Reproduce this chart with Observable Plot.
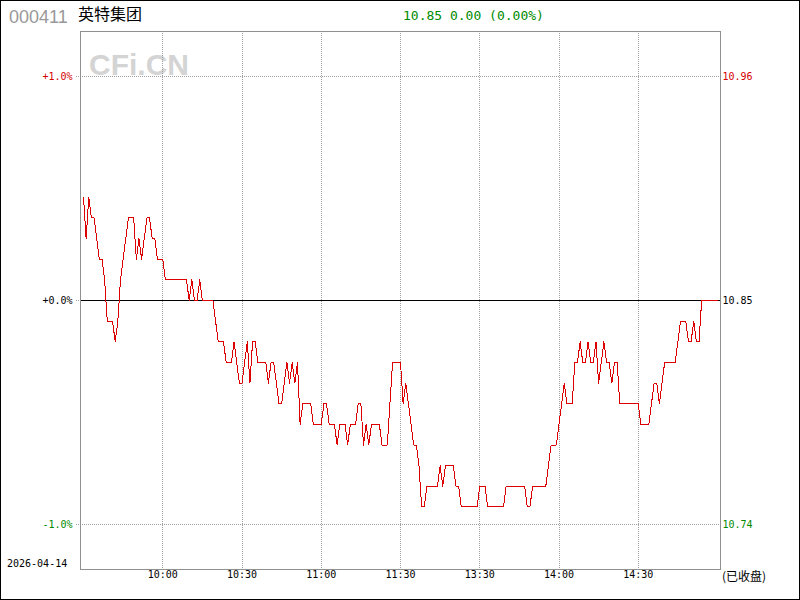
<!DOCTYPE html>
<html><head><meta charset="utf-8">
<script src="https://cdn.jsdelivr.net/npm/d3@7"></script>
<script src="https://cdn.jsdelivr.net/npm/@observablehq/plot@0.6"></script>
<style>
html,body{margin:0;padding:0;background:#fff;}
#wrap{position:relative;width:800px;height:600px;overflow:hidden;background:#fff;}
#wrap svg{position:absolute;left:0;top:0;}
</style></head><body>
<div id="wrap"></div>
<script>
// ---- header / footer texts ----
const stockCode = "000411";
const stockName = "英特集团";
const quoteText = "10.85 0.00 (0.00%)";
const tradeDate = "2026-04-14";
const statusText = "(已收盘)";
const watermark = "CFi.CN";

// ---- data ----
const prevClose = 10.85;
// one price per trading minute, 09:30 .. 11:30 then 13:01 .. 15:00
const prices = [
  10.90,10.88,10.90,10.89,10.89,10.88,10.87,10.87,10.86,10.84,
  10.84,10.84,10.83,10.84,10.86,10.87,10.88,10.89,10.89,10.89,
  10.87,10.88,10.87,10.88,10.89,10.89,10.88,10.88,10.87,10.87,
  10.87,10.86,10.86,10.86,10.86,10.86,10.86,10.86,10.86,10.86,
  10.85,10.86,10.85,10.85,10.86,10.85,10.85,10.85,10.85,10.85,
  10.84,10.83,10.83,10.83,10.82,10.82,10.82,10.83,10.82,10.81,
  10.81,10.82,10.83,10.81,10.83,10.83,10.82,10.82,10.82,10.82,
  10.81,10.82,10.82,10.81,10.80,10.80,10.81,10.82,10.81,10.82,
  10.81,10.82,10.79,10.80,10.80,10.80,10.80,10.79,10.79,10.79,
  10.79,10.80,10.80,10.79,10.79,10.79,10.78,10.79,10.79,10.79,
  10.78,10.79,10.79,10.79,10.80,10.80,10.78,10.79,10.78,10.79,
  10.79,10.79,10.79,10.78,10.78,10.78,10.80,10.82,10.82,10.82,
  10.82,10.80,10.81,10.80,10.79,10.78,10.78,10.77,10.75,10.75,
  10.76,10.76,10.76,10.76,10.76,10.77,10.76,10.77,10.77,10.77,
  10.77,10.76,10.76,10.75,10.75,10.75,10.75,10.75,10.75,10.75,
  10.76,10.76,10.76,10.75,10.75,10.75,10.75,10.75,10.75,10.75,
  10.76,10.76,10.76,10.76,10.76,10.76,10.76,10.76,10.75,10.75,
  10.76,10.76,10.76,10.76,10.76,10.76,10.77,10.78,10.78,10.78,
  10.79,10.80,10.81,10.80,10.80,10.80,10.82,10.82,10.83,10.82,
  10.82,10.83,10.82,10.82,10.83,10.81,10.82,10.83,10.82,10.82,
  10.81,10.82,10.82,10.80,10.80,10.80,10.80,10.80,10.80,10.80,
  10.80,10.79,10.79,10.79,10.79,10.80,10.81,10.81,10.80,10.81,
  10.82,10.82,10.82,10.82,10.82,10.83,10.84,10.84,10.84,10.83,
  10.83,10.84,10.83,10.83,10.85,10.85,10.85,10.85,10.85,10.85,
  10.85
];
const xTickMinutes = [30, 60, 90, 120, 150, 180, 210];
const xTickLabels = ["10:00", "10:30", "11:00", "11:30", "13:30", "14:00", "14:30"];
const pctTicks = [1, 0, -1];
const pctLabels = ["+1.0%", "+0.0%", "-1.0%"];
const priceLabels = ["10.96", "10.85", "10.74"];
const tickColors = ["#d40000", "#000000", "#008a00"];

// ---- build ----
const data = prices.map((p, i) => ({minute: i, pct: (p / prevClose - 1) * 100}));
const xticks = xTickMinutes.map((m, i) => ({minute: m, label: xTickLabels[i]}));
const yticks = pctTicks.map((v, i) => ({pct: v, left: pctLabels[i], right: priceLabels[i], color: tickColors[i]}));
const half = 269 / 224;
const mono = "'DejaVu Sans Mono', monospace";

const chart = Plot.plot({
  width: 800, height: 600,
  marginLeft: 80, marginRight: 80, marginTop: 31, marginBottom: 31,
  style: {background: "transparent"},
  x: {domain: [0, 240], insetLeft: 3, insetRight: 3, axis: null},
  y: {domain: [-half, half], axis: null},
  color: {type: "identity"},
  marks: [
    Plot.ruleX(xticks, {x: "minute", stroke: "#a0a0a0", strokeDasharray: "1,1", shapeRendering: "crispEdges"}),
    Plot.ruleY(yticks, {y: "pct", insetLeft: -4, stroke: "#a0a0a0", strokeDasharray: "1,1", shapeRendering: "crispEdges"}),
    Plot.ruleY([0], {stroke: "#000", shapeRendering: "crispEdges"}),
    Plot.frame({stroke: "#909090", shapeRendering: "crispEdges"}),
    Plot.line(data, {x: "minute", y: "pct", stroke: "#dd0000", strokeWidth: 1, shapeRendering: "crispEdges"}),
    Plot.text(yticks, {y: "pct", frameAnchor: "left", dx: -8, textAnchor: "end", text: "left", fill: "color", fontFamily: mono, fontSize: 10}),
    Plot.text(yticks, {y: "pct", frameAnchor: "right", dx: 2, textAnchor: "start", text: "right", fill: "color", fontFamily: mono, fontSize: 10}),
    Plot.text(xticks, {x: "minute", frameAnchor: "bottom", dy: 8, text: "label", fill: "#000", fontFamily: mono, fontSize: 10})
  ]
});
const wrap = document.getElementById("wrap");

// watermark behind the chart
const ns = "http://www.w3.org/2000/svg";
function makeSvg() {
  const s = document.createElementNS(ns, "svg");
  s.setAttribute("width", 800); s.setAttribute("height", 600);
  return s;
}
function addText(svg, str, x, y, attrs) {
  const t = document.createElementNS(ns, "text");
  t.setAttribute("x", x); t.setAttribute("y", y);
  for (const k in attrs) t.setAttribute(k, attrs[k]);
  t.textContent = str;
  svg.appendChild(t);
}
const back = makeSvg();
addText(back, watermark, 89, 75, {"font-family": "'Liberation Sans', Arial, sans-serif", "font-weight": "bold", "font-size": 30, fill: "#d4d4d4"});
wrap.appendChild(back);
wrap.appendChild(chart);

const front = makeSvg();
front.style.pointerEvents = "none";
addText(front, stockCode, 9, 23, {"font-family": "'Liberation Sans', Arial, sans-serif", "font-size": 18, fill: "#999999"});
addText(front, stockName, 78, 20, {"font-family": "'Noto Sans CJK SC', sans-serif", "font-size": 16, fill: "#000"});
addText(front, quoteText, 403, 19.5, {"font-family": mono, "font-size": 13, fill: "#008a00"});
addText(front, tradeDate, 7, 567, {"font-family": mono, "font-size": 10, fill: "#000"});
addText(front, statusText, 722, 581, {"font-family": "'Noto Sans CJK SC', sans-serif", "font-size": 12, fill: "#000"});
const border = document.createElementNS(ns, "rect");
border.setAttribute("x", 0.5); border.setAttribute("y", 0.5);
border.setAttribute("width", 799); border.setAttribute("height", 599);
border.setAttribute("fill", "none"); border.setAttribute("stroke", "#000");
front.appendChild(border);
wrap.appendChild(front);
</script>
</body></html>
